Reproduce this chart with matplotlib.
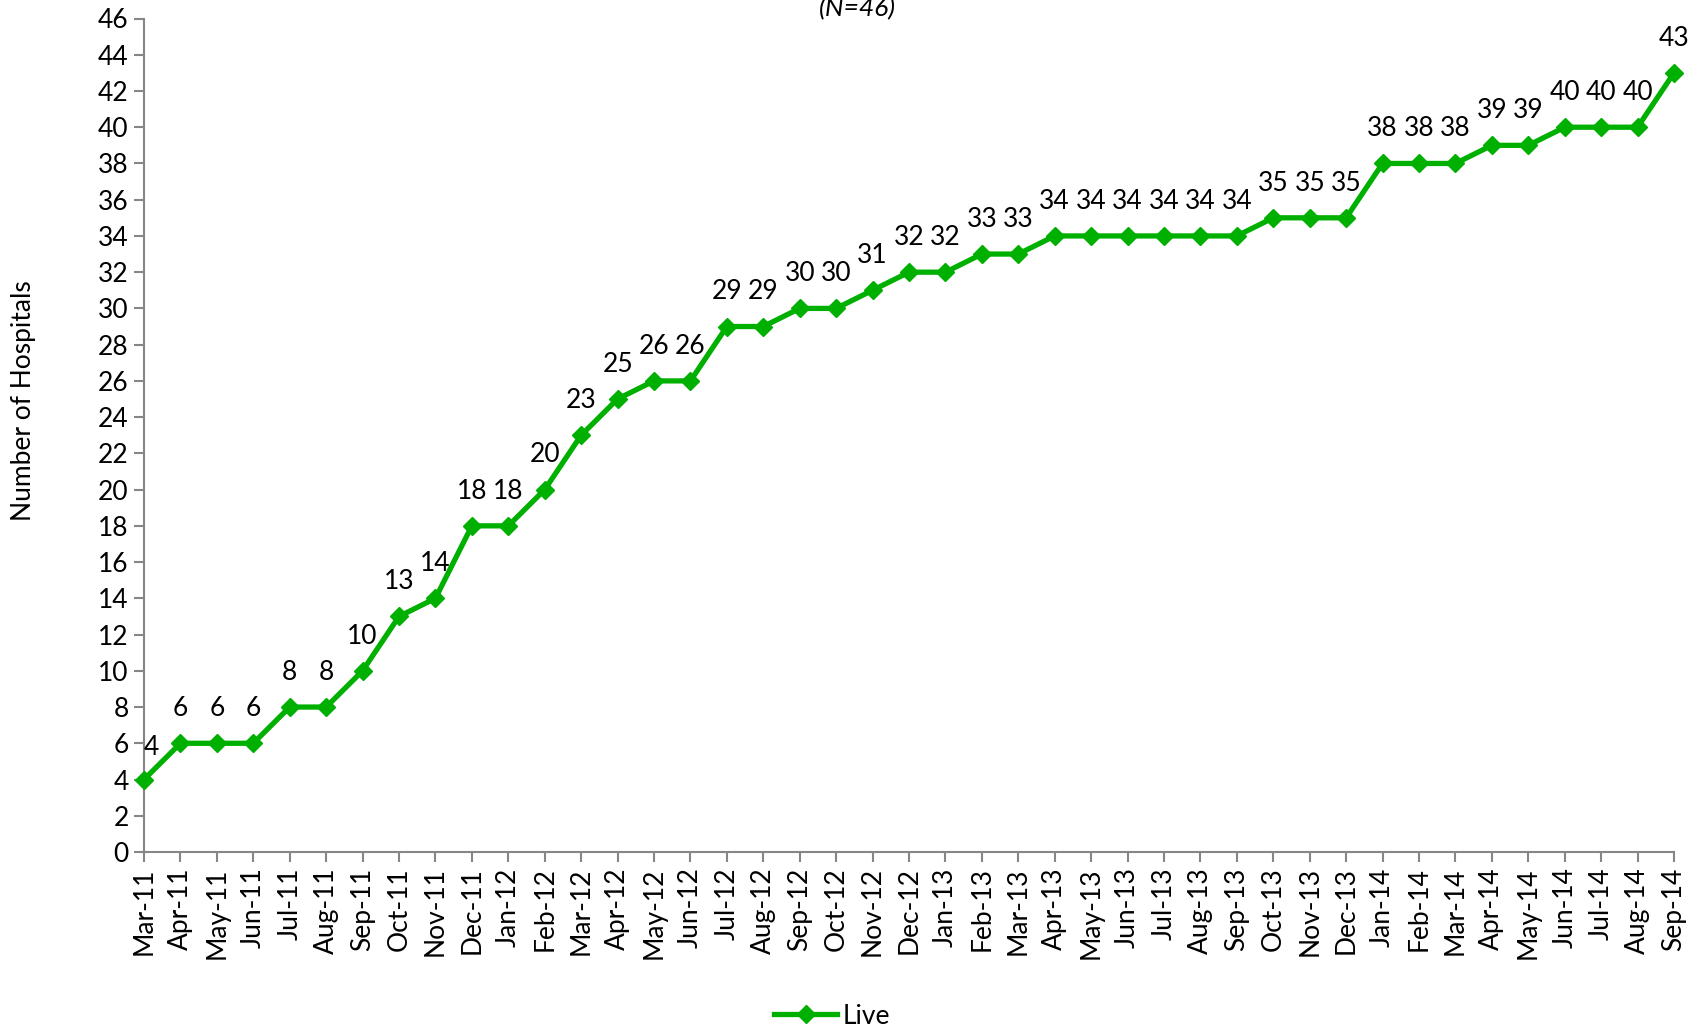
import matplotlib
matplotlib.use("Agg")
import matplotlib.pyplot as plt
from matplotlib.lines import Line2D

plt.rcParams['font.family'] = ['Lato', 'DejaVu Sans']

months = ["Mar-11", "Apr-11", "May-11", "Jun-11", "Jul-11", "Aug-11", "Sep-11", "Oct-11",
          "Nov-11", "Dec-11", "Jan-12", "Feb-12", "Mar-12", "Apr-12", "May-12", "Jun-12",
          "Jul-12", "Aug-12", "Sep-12", "Oct-12", "Nov-12", "Dec-12", "Jan-13", "Feb-13",
          "Mar-13", "Apr-13", "May-13", "Jun-13", "Jul-13", "Aug-13", "Sep-13", "Oct-13",
          "Nov-13", "Dec-13", "Jan-14", "Feb-14", "Mar-14", "Apr-14", "May-14", "Jun-14",
          "Jul-14", "Aug-14", "Sep-14"]
live = [4, 6, 6, 6, 8, 8, 10, 13, 14, 18, 18, 20, 23, 25, 26, 26, 29, 29, 30, 30, 31, 32,
        32, 33, 33, 34, 34, 34, 34, 34, 34, 35, 35, 35, 38, 38, 38, 39, 39, 40, 40, 40, 43]
yticks = list(range(0, 47, 2))

green = "#00B000"
fs = 19

fig = plt.figure(figsize=(17.01, 10.31), dpi=100)
ax = fig.add_axes([144/1701, 1 - 852/1031, (1674-144)/1701, (852-18.5)/1031])

x = list(range(len(months)))
ax.plot(x, live, color=green, lw=3.8, marker='D', ms=9, mfc=green, mec=green, clip_on=False, zorder=3)

for i, v in enumerate(live):
    if i == 0:
        ax.annotate(str(v), (i, v), xytext=(0, 23), textcoords='offset points',
                    ha='left', va='center', fontsize=fs)
    else:
        ax.annotate(str(v), (i, v), xytext=(0, 25), textcoords='offset points',
                    ha='center', va='center', fontsize=fs)

ax.set_xlim(0, len(months) - 1)
ax.set_ylim(0, 46)
ax.set_yticks(yticks)
ax.set_yticklabels([str(t) for t in yticks], fontsize=fs)
ax.set_xticks(x)
ax.set_xticklabels(months, rotation=90, fontsize=fs)

for s in ['top', 'right']:
    ax.spines[s].set_visible(False)
for s in ['left', 'bottom']:
    ax.spines[s].set_color('#868686')
    ax.spines[s].set_linewidth(1.5)
ax.tick_params(axis='both', direction='out', length=7, width=1.5, color='#868686', pad=4)

fig.text(24/1701, 1 - 401/1031, "Number of Hospitals", rotation=90, ha='center', va='center', fontsize=fs)
fig.text(857/1701, 1 - 9/1031, "(N=46)", ha='center', va='center', fontsize=fs, style='italic')

handle = Line2D([0], [0], color=green, lw=3.8, marker='D', ms=9, mfc=green, mec=green)
fig.legend([handle], ["Live"], loc='center', bbox_to_anchor=(832/1701, 1 - 1016/1031),
           frameon=False, fontsize=fs, handlelength=2.4, handletextpad=0.2)

fig.savefig("out.png", dpi=100)
